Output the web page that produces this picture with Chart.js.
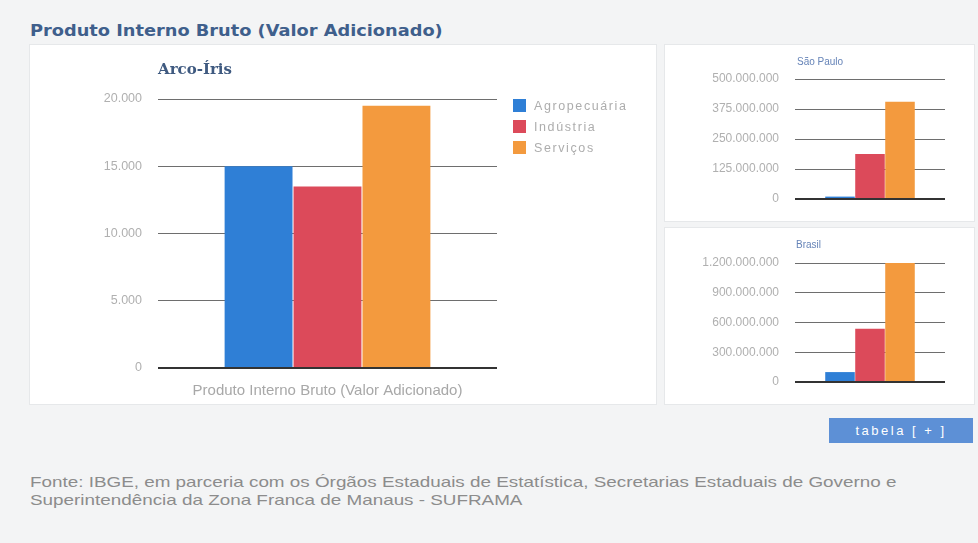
<!DOCTYPE html>
<html>
<head>
<meta charset="utf-8">
<script src="https://cdn.jsdelivr.net/npm/chart.js@4"></script>
<style>
    body { margin: 0; background: #f3f4f5; font-family: "Liberation Sans", Arial, sans-serif; }
    #page { position: relative; width: 978px; height: 543px; overflow: hidden; }
    .painel { position: absolute; background: #fff; border: 1px solid #e6e8ea; }
    .judul { position: absolute; left: 30px; top: 21px; font: bold 16px "DejaVu Sans", sans-serif; color: #3f5f8c; transform: scaleX(1.11); transform-origin: left top; white-space: nowrap; }
    .sub { position: absolute; left: 158px; top: 60px; font: bold 15px "DejaVu Serif", serif; color: #3f5a80; }
    .kecil { position: absolute; font-size: 10px; color: #6684b8; }
    canvas { position: absolute; }
    #legenda { position: absolute; left: 513px; top: 99px; }
    .item { height: 21px; font-size: 12.5px; color: #adadad; letter-spacing: 1.6px; white-space: nowrap; }
    .item span { display: inline-block; width: 13px; height: 13px; margin-right: 8px; vertical-align: -2px; }
    #tombol { position: absolute; left: 829px; top: 418px; width: 144px; height: 25px; background: #5d90d6; color: #fff; font-size: 13px; line-height: 25px; text-align: center; letter-spacing: 2.5px; }
    #sumber { position: absolute; left: 30px; top: 473px; font-size: 14.5px; color: #8c8c8c; line-height: 18px; white-space: nowrap; transform: scaleX(1.3); transform-origin: left top; }
</style>
</head>
<body>
<div id="page">
    <div class="judul">Produto Interno Bruto (Valor Adicionado)</div>
    <div class="painel" style="left:29px;top:44px;width:626px;height:359px;"></div>
    <div class="painel" style="left:664px;top:44px;width:309px;height:176px;"></div>
    <div class="painel" style="left:664px;top:227px;width:309px;height:176px;"></div>
    <canvas id="chartArco" width="625" height="358" style="left:30px;top:45px;"></canvas>
    <canvas id="chartSP" width="308" height="175" style="left:665px;top:45px;"></canvas>
    <canvas id="chartBR" width="308" height="175" style="left:665px;top:228px;"></canvas>
    <div class="sub">Arco-Íris</div>
    <div class="kecil" style="left:797px;top:56px;">São Paulo</div>
    <div class="kecil" style="left:796px;top:239px;">Brasil</div>
    <div id="legenda"></div>
    <div id="tombol">tabela [ + ]</div>
    <div id="sumber">Fonte: IBGE, em parceria com os Órgãos Estaduais de Estatística, Secretarias Estaduais de Governo e<br>Superintendência da Zona Franca de Manaus - SUFRAMA</div>
</div>
<script>
// Data
const kategori = ['Produto Interno Bruto (Valor Adicionado)'];
const setor = ['Agropecuária', 'Indústria', 'Serviços'];
const warna = ['#2f7fd6', '#dc4a5a', '#f39a3e'];
const nilaiArco = [15000, 13500, 19500];
const nilaiSP = [10000000, 187000000, 405000000];
const nilaiBR = [100000000, 537000000, 1200000000];
const ticksArco = [0, 5000, 10000, 15000, 20000];
const ticksSP = [0, 125000000, 250000000, 375000000, 500000000];
const ticksBR = [0, 300000000, 600000000, 900000000, 1200000000];

function formatTitik(n) {
    return String(n).replace(/\B(?=(\d{3})+(?!\d))/g, '.');
}

// Legenda HTML
const legenda = document.getElementById('legenda');
setor.forEach((nama, i) => {
    const div = document.createElement('div');
    div.className = 'item';
    div.innerHTML = `<span style="background:${warna[i]}"></span>${nama}`;
    legenda.appendChild(div);
});

function buatChart(id, nilai, ticks, opsi) {
    const ctx = document.getElementById(id).getContext('2d');
    return new Chart(ctx, {
        type: 'bar',
        data: {
            labels: kategori,
            datasets: setor.map((nama, i) => ({
                label: nama,
                data: [nilai[i]],
                backgroundColor: warna[i],
                borderWidth: 0,
                categoryPercentage: opsi.catPct,
                barPercentage: 0.985
            }))
        },
        options: {
            responsive: false,
            animation: false,
            layout: { padding: opsi.padding },
            plugins: {
                legend: { display: false },
                tooltip: { enabled: false }
            },
            scales: {
                x: {
                    display: opsi.showX,
                    grid: { display: false },
                    border: { display: false },
                    ticks: {
                        padding: 6,
                        color: '#a8a8a8',
                        font: { family: 'Liberation Sans', size: 15 }
                    },
                    afterFit: s => { s.height = opsi.xHeight; }
                },
                y: {
                    min: 0,
                    max: ticks[ticks.length - 1],
                    afterBuildTicks: s => { s.ticks = ticks.map(v => ({ value: v })); },
                    afterFit: s => {
                        s.width = opsi.yWidth;
                        s.paddingTop = 0;
                        s.paddingBottom = 0;
                    },
                    border: { display: false },
                    grid: {
                        drawTicks: false,
                        color: c => c.tick && c.tick.value === 0 ? '#333' : '#6e6e6e',
                        lineWidth: c => c.tick && c.tick.value === 0 ? 2 : 1
                    },
                    ticks: {
                        padding: 16,
                        color: '#b0b0b0',
                        font: { family: 'Liberation Sans', size: opsi.tickSize },
                        callback: v => formatTitik(v)
                    }
                }
            }
        }
    });
}

buatChart('chartArco', nilaiArco, ticksArco, {
    catPct: 0.61, showX: true, xHeight: 35, yWidth: 128, tickSize: 12.5,
    padding: { top: 54, right: 158, bottom: 0, left: 0 }
});
buatChart('chartSP', nilaiSP, ticksSP, {
    catPct: 0.6, showX: false, xHeight: 0, yWidth: 130, tickSize: 12,
    padding: { top: 34, right: 28, bottom: 21, left: 0 }
});
buatChart('chartBR', nilaiBR, ticksBR, {
    catPct: 0.6, showX: false, xHeight: 0, yWidth: 130, tickSize: 12,
    padding: { top: 35, right: 28, bottom: 21, left: 0 }
});
</script>
</body>
</html>
